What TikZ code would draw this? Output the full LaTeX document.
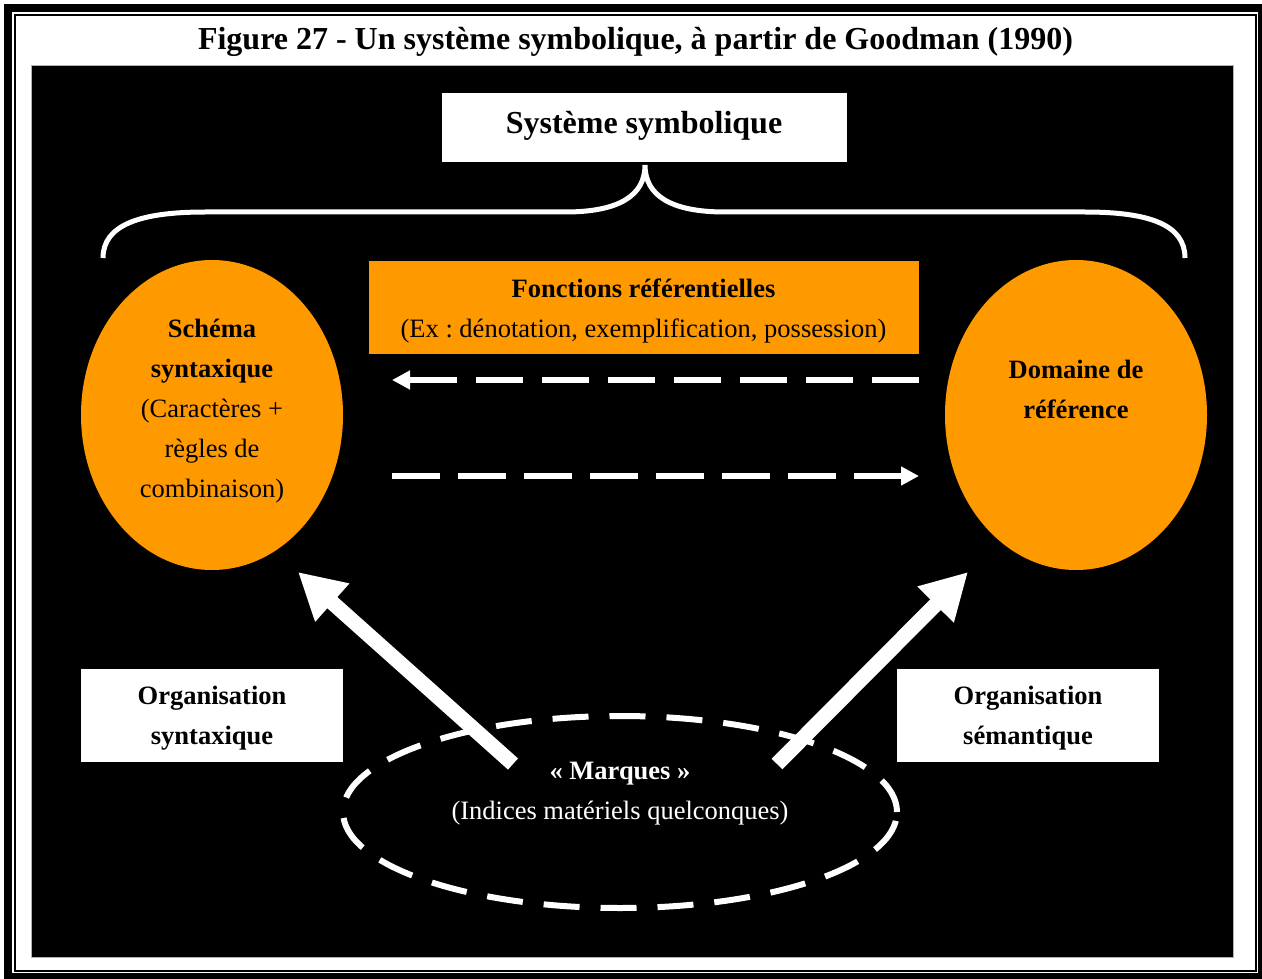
\documentclass[tikz,border=0pt]{standalone}
\usepackage{fontspec}
\setmainfont{Liberation Serif}
\usetikzlibrary{arrows.meta,shapes.geometric}
\definecolor{orng}{HTML}{FF9900}
\frenchspacing
\begin{document}
\begin{tikzpicture}[x=1pt,y=-1pt,
  txt/.style={font=\fontsize{26.5}{40}\selectfont, align=center, inner sep=0pt, anchor=base},
  btxt/.style={txt, font=\fontsize{26.5}{40}\selectfont\bfseries},
  whitebox/.style={fill=white, draw=none, inner sep=0pt},
  orangeell/.style={ellipse, fill=orng, draw=none, inner sep=0pt, minimum width=262pt, minimum height=310pt},
  dasharrow/.style={draw=white, line width=6pt, dash pattern=on 47.5pt off 18.5pt, -{Triangle[length=18pt,width=18pt]}},
  bigarrow/.style={draw=white, line width=15pt, -{Triangle[length=46pt,width=48pt]}},
  bracestyle/.style={draw=white, line width=5pt},
]
\useasboundingbox (0,0) rectangle (1262,979);
\clip (0,0) rectangle (1262,979);
\fill[white] (0,0) rectangle (1262,979);
% outer double frame
\draw[line width=8pt] (8,8) rectangle (1262,977);
\draw[line width=2pt] (15,15) rectangle (1255.5,971);
% title
\node[font=\fontsize{32}{38}\selectfont\bfseries, anchor=base, inner sep=0pt] (title) at (635.5,50) {Figure 27 - Un système symbolique, à partir de Goodman (1990)};
% black panel
\fill[black, draw=gray!60, line width=1pt] (31,66) rectangle (1233,957);
% Systeme symbolique
\node[whitebox, minimum width=405pt, minimum height=69pt] (sysbox) at (644.5,127.5) {};
\node[font=\fontsize{32}{38}\selectfont\bfseries, anchor=base, inner sep=0pt] (systxt) at (644,134) {Système symbolique};
% brace
\coordinate (bl) at (103,258);
\coordinate (bt) at (645,165);
\coordinate (br) at (1185,258);
\draw[bracestyle] (bl) .. controls (103,225) and (140,212) .. (205,212) -- (565,212) .. controls (620,212) and (645,195) .. (bt) .. controls (645,195) and (670,212) .. (725,212) -- (1085,212) .. controls (1150,212) and (1185,225) .. (br);
% ellipses
\node[orangeell] (schema) at (212,415) {};
\node[btxt] (schematxt) at (212,497) {Schéma\\syntaxique\\\mdseries(Caractères +\\\mdseries règles de\\\mdseries combinaison)};
\node[orangeell] (domaine) at (1076,415) {};
\node[btxt] (domainetxt) at (1076,418) {Domaine de\\référence};
% fonctions box
\node[fill=orng, draw=none, inner sep=0pt, minimum width=550pt, minimum height=93pt] (fonct) at (644,307.5) {};
\node[txt] (foncttxt) at (643.5,337) {\textbf{Fonctions référentielles}\\(Ex : dénotation, exemplification, possession)};
% dashed arrows
\coordinate (r1) at (919,380);
\coordinate (l1) at (392,380);
\draw[dasharrow] (r1) -- (l1);
\coordinate (l2) at (392,476);
\coordinate (r2) at (919,476);
\draw[dasharrow] (l2) -- (r2);
% marques ellipse
\node[ellipse, draw=white, line width=6pt, dash pattern=on 36pt off 21pt, minimum width=554pt, minimum height=192pt, inner sep=0pt] (marques) at (620,812) {};
\node[txt, text=white] (marquestxt) at (620,819) {\textbf{« Marques »}\\(Indices matériels quelconques)};
% thick arrows
\coordinate (t1) at (513,764);
\coordinate (h1) at (298,572);
\draw[bigarrow] (t1) -- (h1);
\coordinate (t2) at (777,764);
\coordinate (h2) at (968,572);
\draw[bigarrow] (t2) -- (h2);
% organisation boxes
\node[whitebox, minimum width=262pt, minimum height=93pt] (orgsyn) at (212,715.5) {};
\node[btxt] (orgsyntxt) at (212,744) {Organisation\\syntaxique};
\node[whitebox, minimum width=262pt, minimum height=93pt] (orgsem) at (1028,715.5) {};
\node[btxt] (orgsemtxt) at (1028,744) {Organisation\\sémantique};
\end{tikzpicture}
\end{document}
